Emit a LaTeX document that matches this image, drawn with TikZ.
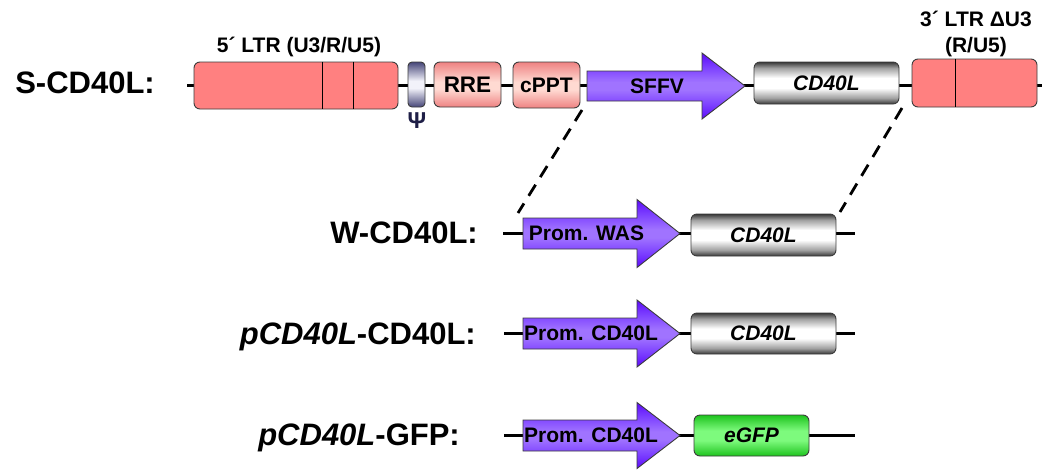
\documentclass[tikz,border=0pt]{standalone}
\usepackage{fontspec}
\setmainfont{Liberation Sans}

\definecolor{ltrred}{RGB}{255,128,128}
\definecolor{pinkedge}{RGB}{238,130,130}
\definecolor{pinkmid}{RGB}{255,218,210}
\definecolor{psiedge}{RGB}{70,70,120}
\definecolor{psimid}{RGB}{242,242,250}
\definecolor{greyedge}{RGB}{55,55,55}
\definecolor{greyramp}{RGB}{160,160,160}
\definecolor{purpedge}{RGB}{92,10,250}
\definecolor{purpramp}{RGB}{125,65,255}
\definecolor{purpmid}{RGB}{160,115,255}
\definecolor{greenedge}{RGB}{30,195,30}
\definecolor{greenmid}{RGB}{125,250,125}
\definecolor{psitext}{RGB}{30,30,70}
\definecolor{outline}{RGB}{60,60,60}

% vertical shadings: dark edges, light band in the middle (path spans 25bp..75bp)
\pgfdeclareverticalshading{greyband}{100bp}{color(0bp)=(greyedge); color(25bp)=(greyedge);
  color(32bp)=(greyramp); color(44bp)=(white); color(56bp)=(white); color(68bp)=(greyramp);
  color(75bp)=(greyedge); color(100bp)=(greyedge)}
\pgfdeclareverticalshading{pinkband}{100bp}{color(0bp)=(pinkedge); color(25bp)=(pinkedge);
  color(45bp)=(pinkmid); color(53bp)=(pinkmid); color(75bp)=(pinkedge); color(100bp)=(pinkedge)}
\pgfdeclareverticalshading{psiband}{100bp}{color(0bp)=(psiedge); color(25bp)=(psiedge);
  color(46bp)=(psimid); color(54bp)=(psimid); color(75bp)=(psiedge); color(100bp)=(psiedge)}
\pgfdeclareverticalshading{purpband}{100bp}{color(0bp)=(purpedge); color(25bp)=(purpedge);
  color(36bp)=(purpramp); color(47bp)=(purpmid); color(53bp)=(purpmid); color(64bp)=(purpramp);
  color(75bp)=(purpedge); color(100bp)=(purpedge)}
\pgfdeclareverticalshading{greenband}{100bp}{color(0bp)=(greenedge); color(25bp)=(greenedge);
  color(44bp)=(greenmid); color(56bp)=(greenmid); color(75bp)=(greenedge); color(100bp)=(greenedge)}

\begin{document}
\begin{tikzpicture}[x=1pt,y=-1pt,
  backbone/.style={line width=2.6pt, black},
  zoomline/.style={line width=2.8pt, black, dash pattern=on 13pt off 9pt},
  element/.style={draw=outline, line width=0.9pt, rounded corners=6pt, inner sep=0pt,
    font=\bfseries\fontsize{21}{24}\selectfont},
  ltrbox/.style={element, fill=ltrred},
  pinkbox/.style={element, shading=pinkband},
  psibox/.style={element, rounded corners=4pt, shading=psiband},
  genebox/.style={element, shading=greyband, font=\bfseries\itshape\fontsize{21}{24}\selectfont},
  gfpbox/.style={element, shading=greenband, font=\bfseries\itshape\fontsize{21}{24}\selectfont},
  promoter/.style={draw=outline, line width=0.9pt, shading=purpband},
  promtext/.style={inner sep=0pt, font=\bfseries\fontsize{21}{24}\selectfont},
  divider/.style={line width=0.8pt, black},
  rowlabel/.style={anchor=base east, inner sep=0pt, font=\bfseries\fontsize{31}{36}\selectfont},
  toplabel/.style={inner sep=0pt, align=center, font=\bfseries\fontsize{21}{26}\selectfont},
]
\useasboundingbox (0,0) rectangle (1042,469);

% ---------- S-CD40L vector ----------
\node[rowlabel] (lblS) at (155,93) {S-CD40L:};
\coordinate (r1start) at (187,85.5);
\coordinate (r1end) at (1042,85.5);
\draw[backbone] (r1start) -- (r1end);

\node[ltrbox, minimum width=204pt, minimum height=47pt] (ltr5) at (296,85.5) {};
\draw[divider] ([xshift=129pt]ltr5.north west) -- ([xshift=129pt]ltr5.south west);
\draw[divider] ([xshift=160pt]ltr5.north west) -- ([xshift=160pt]ltr5.south west);
\node[toplabel] (ltr5lbl) at (299,47) {5´ LTR (U3/R/U5)};

\node[psibox, minimum width=17pt, minimum height=45pt] (psi) at (416.5,84.5) {};
\node[inner sep=0pt, text=psitext, font=\bfseries\fontsize{23}{26}\selectfont] (psilbl) at (417,121) {Ψ};

\node[pinkbox, minimum width=67pt, minimum height=45pt, font=\bfseries\fontsize{22.5}{26}\selectfont] (rre) at (467.5,84.5) {RRE};
\node[pinkbox, minimum width=67pt, minimum height=46pt] (cppt) at (546.5,85) {cPPT};

\path[promoter] (587,71) -- (702,71) -- (702,53) -- (745,86) -- (702,119) -- (702,101) -- (587,101) -- cycle;
\node[promtext] (sffv) at (657,86) {SFFV};

\node[genebox, minimum width=145pt, minimum height=42pt] (gene1) at (826.5,83) {CD40L};

\node[ltrbox, minimum width=125pt, minimum height=48pt] (ltr3) at (974.5,83) {};
\draw[divider] ([xshift=44pt]ltr3.north west) -- ([xshift=44pt]ltr3.south west);
\node[toplabel] (ltr3lbl) at (976,34) {3´ LTR ΔU3\\(R/U5)};

% ---------- W-CD40L ----------
\node[rowlabel] (lblW) at (478,243) {W-CD40L:};
\coordinate (r2start) at (503,233.5);
\coordinate (r2end) at (855,233.5);
\draw[backbone] (r2start) -- (r2end);
\path[promoter] (523,218) -- (637,218) -- (637,199.5) -- (680,233.5) -- (637,267.5) -- (637,249) -- (523,249) -- cycle;
\node[promtext] (was) at (586.5,233.5) {Prom. WAS};
\node[genebox, minimum width=145pt, minimum height=42pt] (gene2) at (763.5,235) {CD40L};

% dashed lines marking the exchanged cassette
\coordinate (zoomAtop) at (582,110);
\coordinate (zoomAbot) at (518,213);
\coordinate (zoomBtop) at (902,108);
\coordinate (zoomBbot) at (840,212);
\draw[zoomline] (zoomAtop) -- (zoomAbot);
\draw[zoomline] (zoomBtop) -- (zoomBbot);

% ---------- pCD40L-CD40L ----------
\node[rowlabel] (lblP1) at (476,344) {\textit{pCD40L}-CD40L:};
\coordinate (r3start) at (504,333.5);
\coordinate (r3end) at (855,333.5);
\draw[backbone] (r3start) -- (r3end);
\path[promoter] (523,318) -- (637,318) -- (637,300) -- (680,333.5) -- (637,367) -- (637,349) -- (523,349) -- cycle;
\node[promtext] (prom3) at (591,333.5) {Prom. CD40L};
\node[genebox, minimum width=145pt, minimum height=41pt] (gene3) at (763.5,333.5) {CD40L};

% ---------- pCD40L-GFP ----------
\node[rowlabel] (lblP2) at (460,445.5) {\textit{pCD40L}-GFP:};
\coordinate (r4start) at (504,435.5);
\coordinate (r4end) at (855,435.5);
\draw[backbone] (r4start) -- (r4end);
\path[promoter] (523,420) -- (637,420) -- (637,402.5) -- (680,435.5) -- (637,468.5) -- (637,451) -- (523,451) -- cycle;
\node[promtext] (prom4) at (591,435.5) {Prom. CD40L};
\node[gfpbox, minimum width=115pt, minimum height=41pt] (gfp) at (751.5,435.5) {eGFP};
\end{tikzpicture}
\end{document}
